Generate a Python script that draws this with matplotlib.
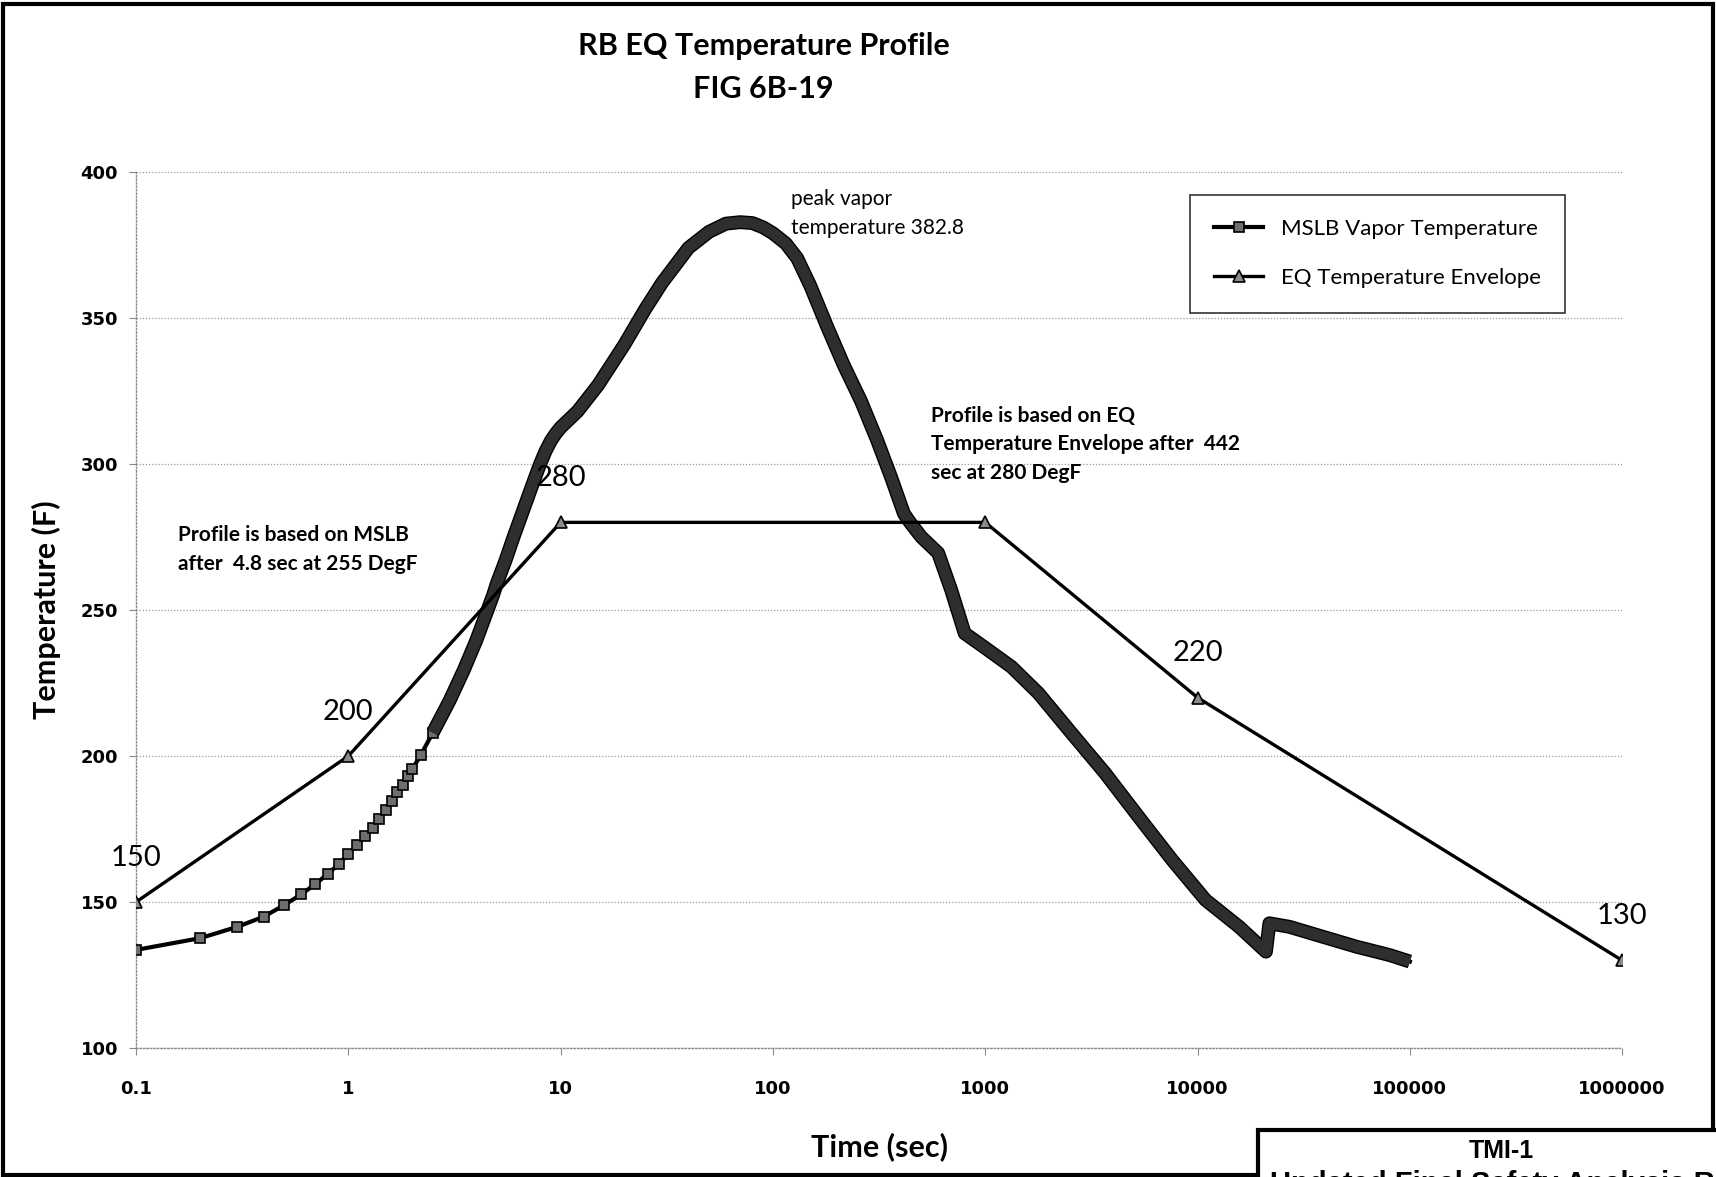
import matplotlib
matplotlib.use("Agg")
import matplotlib.pyplot as plt
import matplotlib.patheffects as pe
from matplotlib.patches import Rectangle
import numpy as np

# MSLB vapor temperature
mslb_time = [0.1, 0.2, 0.3, 0.4, 0.5, 0.6, 0.7, 0.8, 0.9, 1.0,
             1.1, 1.2, 1.3, 1.4, 1.5, 1.6, 1.7, 1.8, 1.9, 2.0,
             2.2, 2.5, 3.0, 3.5, 4.0, 4.5, 4.8, 5.0, 5.5, 6.0,
             6.5, 7.0, 7.5, 8.0, 8.5, 9.0, 9.5, 10,
             12, 15, 20, 25, 30, 40, 50, 60, 70, 80, 90, 100,
             115, 130, 150, 180, 215, 260, 310, 360, 414, 442, 500,
             600, 690, 800, 1000, 1330, 1780, 2550, 3670, 5270, 7590,
             10900, 15700, 21000, 21800, 27100, 38900, 56000, 80500, 100000]
mslb_temp = [133.6, 137.6, 141.5, 145.0, 149.0, 152.6, 156.2, 159.6, 162.9, 166.5,
             169.5, 172.5, 175.5, 178.5, 181.5, 184.5, 187.5, 190.0, 193.0, 195.5,
             200.5, 208.0, 219.0, 229.5, 239.5, 249.5, 255.0, 259.0, 267.0, 275.0,
             282.0, 288.5, 294.5, 300.0, 304.5, 308.0, 310.5, 312.5,
             318.0, 327.0, 341.0, 353.0, 362.0, 374.0, 379.5, 382.3, 382.8, 382.5, 381.0, 379.0,
             375.5, 370.5, 361.0, 347.0, 334.0, 321.5, 308.0, 295.5, 283.0, 280.0, 275.0,
             269.5, 257.0, 242.0, 237.0, 230.5, 221.5, 207.8, 194.1, 179.2, 164.4,
             150.7, 141.5, 133.0, 142.7, 141.5, 138.1, 134.7, 131.8, 129.6]

# EQ temperature envelope
env_time = [0.1, 1, 10, 1000, 10000, 1000000]
env_temp = [150, 200, 280, 280, 220, 130]
env_labels = ["150", "200", "280", "", "220", "130"]

x_ticks = [0.1, 1, 10, 100, 1000, 10000, 100000, 1000000]
x_ticklabels = ["0.1", "1", "10", "100", "1000", "10000", "100000", "1000000"]
y_ticks = [100, 150, 200, 250, 300, 350, 400]

plt.rcParams['font.family'] = ['Lato', 'DejaVu Sans']

fig = plt.figure(figsize=(17.16, 11.77), dpi=100)
ax = fig.add_axes([0.0793, 0.1096, 0.866, 0.7443])

t = np.array(mslb_time)
T = np.array(mslb_temp)

# thin line with square markers (dense early part)
early = t <= 2.5
ax.plot(t, T, color='black', lw=3, marker='s', ms=6.5, mfc='#6e6e6e', mec='black',
        mew=1.2, markevery=list(np.where(early)[0]), zorder=3,
        label='MSLB Vapor Temperature')
# the later markers overlap into a thick band
band = t >= 2.5
ax.plot(t[band], T[band], color='#2e2e2e', lw=8, solid_joinstyle='round',
        solid_capstyle='butt', zorder=3,
        path_effects=[pe.Stroke(linewidth=10, foreground='black'), pe.Normal()])

ax.plot(env_time, env_temp, color='black', lw=2.4, marker='^', ms=9,
        mfc='#8a8a8a', mec='black', mew=1.2, zorder=4,
        label='EQ Temperature Envelope')

for xv, yv, lab in zip(env_time, env_temp, env_labels):
    if lab:
        ax.annotate(lab, (xv, yv), xytext=(0, 32), textcoords='offset points',
                    ha='center', va='center', fontsize=21, zorder=5)

ax.set_xscale('log')
ax.set_xlim(0.1, 1000000)
ax.set_ylim(100, 400)
ax.set_xticks(x_ticks)
ax.set_xticklabels(x_ticklabels)
ax.minorticks_off()
ax.set_yticks(y_ticks)

for lab in ax.get_xticklabels() + ax.get_yticklabels():
    lab.set_family('DejaVu Sans')
    lab.set_fontweight('bold')
    lab.set_fontsize(13)
ax.tick_params(axis='x', length=5, color='#888', pad=18)
ax.tick_params(axis='y', length=5, color='#888', pad=8)

ax.grid(axis='y', linestyle=(0, (1, 1.5)), color='#9a9a9a', lw=0.9)
for s in ['top', 'right']:
    ax.spines[s].set_visible(False)
for s in ['left', 'bottom']:
    ax.spines[s].set_linestyle((0, (1, 1.5)))
    ax.spines[s].set_color('#8a8a8a')
    ax.spines[s].set_linewidth(1.0)

ax.set_xlabel('Time (sec)', fontsize=22, fontweight='bold', labelpad=25)
ax.set_ylabel('Temperature (F)', fontsize=22, fontweight='bold', labelpad=14)

ax.text(121, 394, 'peak vapor\ntemperature 382.8', fontsize=15, va='top',
        ha='left', linespacing=1.55)
ax.text(557, 320, 'Profile is based on EQ\nTemperature Envelope after  442\nsec at 280 DegF',
        fontsize=15, va='top', ha='left', linespacing=1.55, fontweight='bold')
ax.text(0.157, 279, 'Profile is based on MSLB\nafter  4.8 sec at 255 DegF',
        fontsize=15, va='top', ha='left', linespacing=1.55, fontweight='bold')

leg = ax.legend(loc='upper left', bbox_to_anchor=(0.709, 0.974), fontsize=16,
                frameon=True, fancybox=False, edgecolor='black',
                handlelength=2.2, borderpad=1.1, labelspacing=1.3,
                borderaxespad=0)
leg.get_frame().set_linewidth(1.2)

fig.text(0.445, 0.961, 'RB EQ Temperature Profile', ha='center', va='center',
         fontsize=22, fontweight='bold')
fig.text(0.445, 0.924, 'FIG 6B-19', ha='center', va='center',
         fontsize=22, fontweight='bold')

# outer frame and the cut-off title block
fig.patches.append(Rectangle((0.002, 0.002), 0.996, 0.995, transform=fig.transFigure,
                             fill=False, edgecolor='black', lw=3))
fig.patches.append(Rectangle((0.733, -0.05), 0.3, 0.09, transform=fig.transFigure,
                             fill=True, facecolor='white', edgecolor='black', lw=3))
fig.text(0.875, 0.022, 'TMI-1', ha='center', va='center', fontsize=18,
         fontweight='bold', family='Liberation Sans')
fig.text(0.74, -0.006, 'Updated Final Safety Analysis Report', ha='left', va='center',
         fontsize=21, fontweight='bold', family='Liberation Sans')

fig.savefig('out.png', dpi=100)
